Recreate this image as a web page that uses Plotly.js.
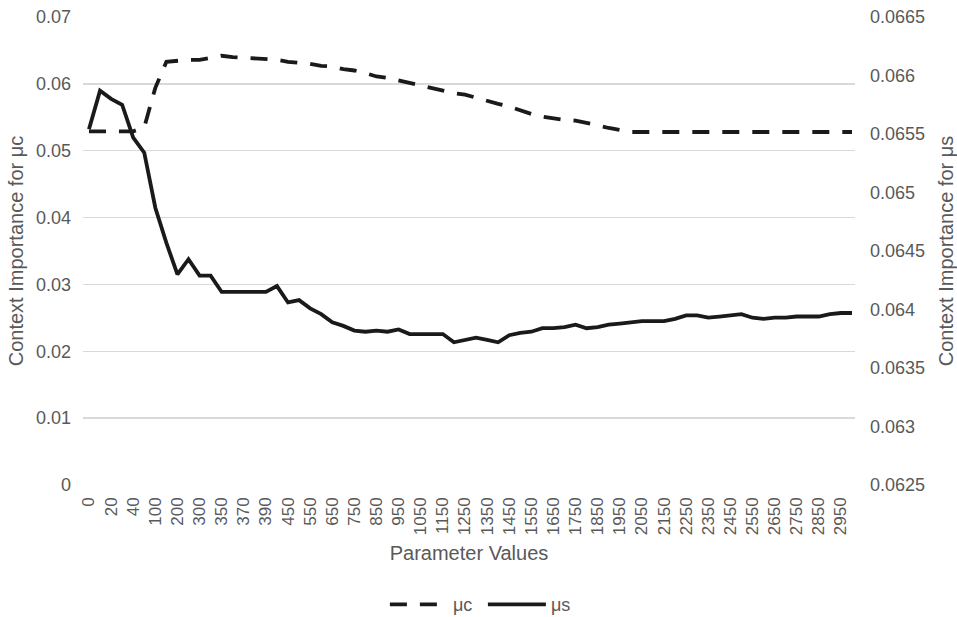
<!DOCTYPE html>
<html>
<head>
<meta charset="utf-8">
<script src="https://cdn.plot.ly/plotly-3.0.1.min.js"></script>
<style>
html,body{margin:0;padding:0;background:#fff;}
#chart{width:957px;height:617px;}
</style>
</head>
<body>
<div id="chart"></div>
<script>
const categories = ["0","10","20","30","40","50","100","150","200","250","300","330","350","360","370","380","390","400",
  "450","500","550","600","650","700","750","800","850","900","950","1000","1050","1100","1150","1200","1250","1300",
  "1350","1400","1450","1500","1550","1600","1650","1700","1750","1800","1850","1900","1950","2000","2050","2100",
  "2150","2200","2250","2300","2350","2400","2450","2500","2550","2600","2650","2700","2750","2800","2850","2900",
  "2950","3000"];

const tickLabels = ["0","20","40","100","200","300","350","370","390","450","550","650","750","850","950","1050",
  "1150","1250","1350","1450","1550","1650","1750","1850","1950","2050","2150","2250","2350","2450","2550","2650",
  "2750","2850","2950"];

const muC = [0.0529,0.0529,0.0529,0.0529,0.0529,0.0535,0.0594,0.0633,0.0635,0.0636,
  0.0636,0.0639,0.0642,0.0640,0.0639,0.0639,0.0637,0.0636,0.0633,0.0632,
  0.0630,0.0627,0.0626,0.0622,0.0620,0.0616,0.0611,0.0609,0.0605,0.0602,
  0.0597,0.0593,0.0590,0.0586,0.0584,0.0579,0.0575,0.0570,0.0566,0.0560,
  0.0555,0.0551,0.0548,0.0546,0.0545,0.0542,0.0538,0.0534,0.0531,0.0528,
  0.0528,0.0528,0.0528,0.0528,0.0528,0.0528,0.0528,0.0528,0.0528,0.0528,
  0.0528,0.0528,0.0528,0.0528,0.0528,0.0528,0.0528,0.0528,0.0528,0.0528];

const muS = [0.06554,0.06587,0.06580,0.06575,0.06547,0.06534,0.06487,0.06457,0.06430,0.06443,
  0.06429,0.06429,0.06415,0.06415,0.06415,0.06415,0.06415,0.06420,0.06406,0.06408,
  0.06401,0.06396,0.06389,0.06386,0.06382,0.06381,0.06382,0.06381,0.06383,0.06379,
  0.06379,0.06379,0.06379,0.06372,0.06374,0.06376,0.06374,0.06372,0.06378,0.06380,
  0.06381,0.06384,0.06384,0.06385,0.06387,0.06384,0.06385,0.06387,0.06388,0.06389,
  0.06390,0.06390,0.06390,0.06392,0.06395,0.06395,0.06393,0.06394,0.06395,0.06396,
  0.06393,0.06392,0.06393,0.06393,0.06394,0.06394,0.06394,0.06396,0.06397,0.06397];

const FONT = "Liberation Sans, Arial, sans-serif";
const GRAY = "#595959";

const traces = [
  {x: categories, y: muC, name: "μc", type: "scatter", mode: "lines", yaxis: "y",
   line: {color: "#1a1a1a", width: 3.8, dash: "17px,13px"}},
  {x: categories, y: muS, name: "μs", type: "scatter", mode: "lines", yaxis: "y2",
   line: {color: "#1a1a1a", width: 3.8}}
];

const layout = {
  width: 957, height: 617,
  margin: {l: 83, r: 102, t: 17, b: 131.5},
  paper_bgcolor: "#fff", plot_bgcolor: "#fff",
  font: {family: FONT, color: GRAY, size: 18},
  showlegend: true,
  legend: {orientation: "h", x: 0.518, xanchor: "center", yref: "container", y: 0.02, yanchor: "middle",
           font: {size: 18, color: GRAY}, itemwidth: 58, tracegroupgap: 0,
           entrywidth: 25, entrywidthmode: "pixels"},
  xaxis: {type: "category", categoryorder: "array", categoryarray: categories,
          range: [-0.54, 69.27], automargin: false,
          tickmode: "array", tickvals: tickLabels, ticktext: tickLabels,
          tickangle: -90, tickfont: {size: 17, color: GRAY}, showgrid: false,
          showline: false, zeroline: false, ticks: "", ticklabelstandoff: 8,
          title: {text: "Parameter Values", font: {size: 20, color: GRAY}, standoff: 11}},
  yaxis: {range: [0, 0.07], dtick: 0.01, tick0: 0, showgrid: true, gridcolor: "#d9d9d9", gridwidth: 1.3,
          automargin: false,
          zeroline: false, showline: false, ticks: "", tickfont: {size: 18, color: GRAY},
          ticklabelstandoff: 11,
          title: {text: "Context Importance for μc", font: {size: 20, color: GRAY}, standoff: 6}},
  yaxis2: {range: [0.0625, 0.0665], dtick: 0.0005, tick0: 0.0625, overlaying: "y", side: "right",
           automargin: false,
           showgrid: false, zeroline: false, showline: false, ticks: "", tickformat: "",
           tickfont: {size: 18, color: GRAY}, ticklabelstandoff: 14,
           title: {text: "Context Importance for μs", font: {size: 20, color: GRAY}, standoff: 14}}
};

Plotly.newPlot("chart", traces, layout, {displayModeBar: false, staticPlot: true});
</script>
</body>
</html>
